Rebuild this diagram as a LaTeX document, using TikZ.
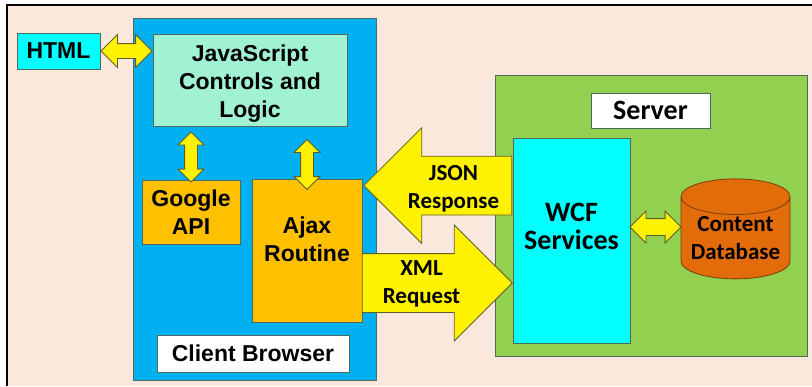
\documentclass[tikz,border=0pt]{standalone}
\usepackage{fontspec}
\setmainfont{Liberation Sans}
\newfontfamily\calfont{Carlito}
\usetikzlibrary{calc,shapes.geometric,shapes.arrows}

\definecolor{peach}{HTML}{FBE8DC}
\definecolor{skyblue}{HTML}{00B0F0}
\definecolor{aqua}{HTML}{00FFFF}
\definecolor{mint}{HTML}{A0F2D2}
\definecolor{amber}{HTML}{FFC000}
\definecolor{lime}{HTML}{92D050}
\definecolor{rust}{HTML}{E36C0A}
\definecolor{edge}{HTML}{4F6A5A}

\tikzset{
  box/.style={draw=edge, line width=.8pt, inner sep=0pt, align=center,
    font=\bfseries\fontsize{23}{28}\selectfont},
  calbox/.style={box, font=\calfont\bfseries\fontsize{23}{28}\selectfont},
  bigcal/.style={box, font=\calfont\bfseries\fontsize{28}{28}\selectfont},
  fatarrow/.style={single arrow, fill=yellow, draw=olive!60!black,
    line width=.8pt, inner xsep=0pt, inner ysep=29pt, single arrow head extend=28.5pt},
  duoarrow/.style={double arrow, fill=yellow, draw=olive!60!black,
    line width=.8pt, inner xsep=0pt},
  lbl/.style={font=\calfont\bfseries\fontsize{23}{28}\selectfont, align=center}
}

\begin{document}
\begin{tikzpicture}[x=1pt,y=-1pt]
  \useasboundingbox (0,0) rectangle (812,386);
  \fill[peach] (7,5) rectangle (812,386);
  \draw[line width=2.5pt] (7,386) -- (7,5) -- (812,5);

  % client side
  \node[box, fill=skyblue, minimum width=243, minimum height=362] (client) at (254.5,199) {};
  \node[box, fill=aqua, minimum width=83, minimum height=36] (html) at (58.5,51) {HTML};
  \node[box, fill=mint, minimum width=194, minimum height=92,
    label={[box, draw=none, yshift=-4pt]center:JavaScript\\Controls and\\Logic}] (js) at (250,80) {};
  \node[box, fill=amber, minimum width=98, minimum height=64] (google) at (191,212) {Google\\API};
  \node[box, fill=amber, minimum width=110, minimum height=143] (ajax) at (307,250.5)
    {Ajax\\Routine\\[-6pt]\mbox{}};
  \node[box, fill=white, minimum width=192, minimum height=37] (clientlbl) at (253,353.5) {Client Browser};

  % server side
  \node[calbox, fill=lime, minimum width=312, minimum height=281] (server) at (651,215.5) {};
  \node[bigcal, fill=white, minimum width=119, minimum height=35] (serverlbl) at (650.5,110.5) {Server};
  \node[bigcal, fill=aqua, minimum width=117, minimum height=205] (wcf) at (571.5,240.5)
    {WCF\\Services\\\mbox{}};
  \node[calbox, cylinder, shape border rotate=90, aspect=.4, fill=rust, draw=rust!55!black,
    minimum width=109, minimum height=100] (db) at (735.5,238) {Content\\Database};

  % links
  \node[duoarrow, minimum height=51, minimum width=32, inner ysep=7pt, double arrow head extend=9pt]
    (htmljs) at ($(html.east)!.5!(html.east-|js.west)$) {};
  \node[duoarrow, rotate=90, minimum height=50, minimum width=25, inner ysep=6pt, double arrow head extend=6.5pt]
    (jsgoogle) at ($(google.north)!.5!(google.north|-js.south)$) [xshift=-4pt] {};
  \node[duoarrow, rotate=90, minimum height=50, minimum width=25, inner ysep=6pt, double arrow head extend=6.5pt]
    (jsajax) at ($(ajax.north)!.5!(ajax.north|-js.south)$) [xshift=-12pt] {};
  \node[duoarrow, minimum height=51, minimum width=31, inner ysep=8pt, double arrow head extend=7.5pt]
    (wcfdb) at ($(wcf.east)!.5!(wcf.east-|db.west)$) [yshift=13.5pt] {};

  \node[fatarrow, shape border rotate=180, minimum height=148, minimum width=115]
    (json) at ($(ajax.north east)!.5!(wcf.west|-ajax.north east)$) [xshift=15pt,yshift=-7pt] {};
  \node[lbl] (jsonlbl) at ([xshift=1pt,yshift=-3pt]json.center) {JSON\\Response};
  \node[fatarrow, minimum height=150, minimum width=115]
    (xml) at ($(ajax.east)!.5!(wcf.west|-ajax.east)$) [xshift=-15pt,yshift=-32.5pt] {};
  \node[lbl] (xmllbl) at ([xshift=-1pt,yshift=-1pt]xml.center) {XML\\Request};
\end{tikzpicture}
\end{document}
